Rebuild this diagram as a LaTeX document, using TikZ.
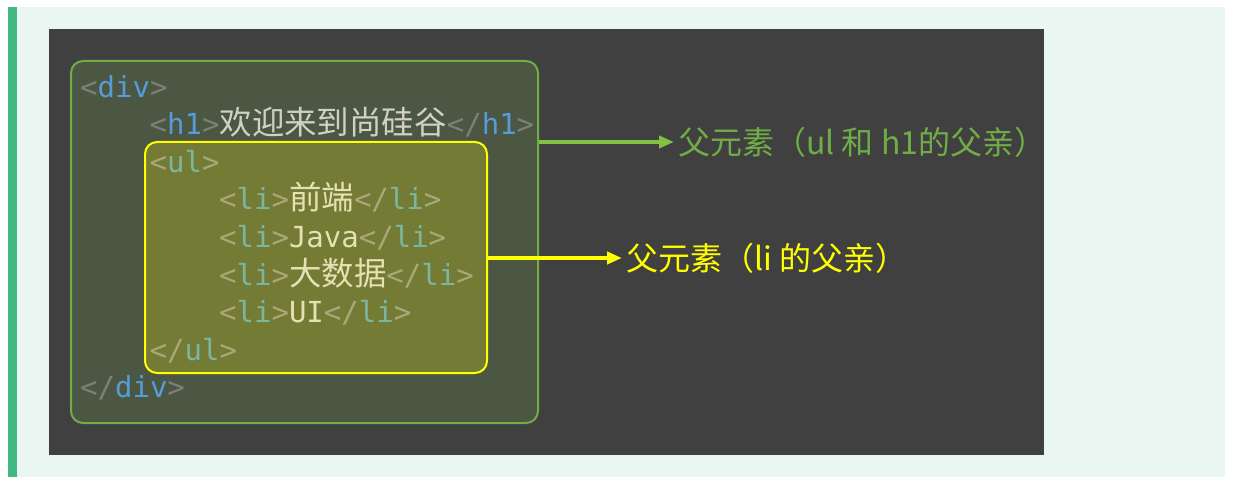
\documentclass[tikz,border=0pt]{standalone}
\usepackage{fontspec}
\setmonofont{DejaVu Sans Mono}
\newfontfamily\cjk{Noto Sans CJK SC}
\newfontfamily\cjkcode[Scale=1.12]{Noto Sans CJK SC}
\usetikzlibrary{arrows.meta}

\definecolor{page}{RGB}{233,246,241}
\definecolor{pagebar}{RGB}{66,185,131}
\definecolor{editor}{RGB}{64,64,64}
\definecolor{divline}{RGB}{112,173,71}
\definecolor{divfill}{RGB}{75,87,66}
\definecolor{ulline}{RGB}{255,255,0}
\definecolor{ulfill}{RGB}{115,123,53}
\definecolor{divpunct}{RGB}{125,128,120}
\definecolor{divtag}{RGB}{86,156,214}
\definecolor{divtext}{RGB}{208,208,200}
\definecolor{ulpunct}{RGB}{170,168,120}
\definecolor{ultag}{RGB}{125,182,160}
\definecolor{ultext}{RGB}{228,226,178}
\definecolor{greenarrow}{RGB}{130,192,70}

\newcommand{\dvp}[1]{\textcolor{divpunct}{#1}}
\newcommand{\dvtag}[1]{\textcolor{divtag}{#1}}
\newcommand{\ulp}[1]{\textcolor{ulpunct}{#1}}
\newcommand{\ultag}[1]{\textcolor{ultag}{#1}}
\newcommand{\ultxt}[1]{\textcolor{ultext}{#1}}

\begin{document}
\begin{tikzpicture}[x=1pt, y=-1pt, >={Triangle[length=15pt, width=12pt]},
    code/.style={anchor=base west, inner sep=0pt, font=\fontsize{29}{35}\ttfamily},
    box/.style={rounded corners=12pt, line width=2pt, inner sep=0pt},
    note/.style={anchor=west, inner sep=0pt, font=\fontsize{32}{38}\cjk}]
    \useasboundingbox (0,0) rectangle (1239,481);
    % page and editor background
    \fill[page] (8,7) rectangle (1225,477);
    \fill[pagebar] (8,7) rectangle (17,477);
    \fill[editor] (49,29) rectangle (1044,455);

    % highlight boxes
    \node[box, draw=divline, fill=divfill, minimum width=467pt, minimum height=362pt] (divbox) at (304.5,242) {};
    \node[box, draw=ulline, fill=ulfill, minimum width=342pt, minimum height=231pt] (ulbox) at (316,257.5) {};

    % code lines
    \node[code] (divopen) at (80,97.5) {\dvp{<}\dvtag{div}\dvp{>}};
    \node[code] (h1line) at (149.5,135) {\dvp{<}\dvtag{h1}\dvp{>}\textcolor{divtext}{\cjkcode 欢迎来到尚硅谷}\dvp{</}\dvtag{h1}\dvp{>}};
    \node[code] (ulopen) at (149.5,172.5) {\ulp{<}\ultag{ul}\ulp{>}};
    \node[code] (li1) at (219,210) {\ulp{<}\ultag{li}\ulp{>}\ultxt{\cjkcode 前端}\ulp{</}\ultag{li}\ulp{>}};
    \node[code] (li2) at (219,247.5) {\ulp{<}\ultag{li}\ulp{>}\ultxt{Java}\ulp{</}\ultag{li}\ulp{>}};
    \node[code] (li3) at (219,285) {\ulp{<}\ultag{li}\ulp{>}\ultxt{\cjkcode 大数据}\ulp{</}\ultag{li}\ulp{>}};
    \node[code] (li4) at (219,322.5) {\ulp{<}\ultag{li}\ulp{>}\ultxt{UI}\ulp{</}\ultag{li}\ulp{>}};
    \node[code] (ulclose) at (149.5,360) {\ulp{</}\ultag{ul}\ulp{>}};
    \node[code] (divclose) at (80,397.5) {\dvp{</}\dvtag{div}\dvp{>}};

    % notes
    \node[note, text=divline] (divnote) at (678,142) {父元素（ul 和 h1的父亲）};
    \node[note, text=ulline] (ulnote) at (626,258) {父元素（li 的父亲）};

    \draw[->, greenarrow, line width=4pt, shorten >=4pt] (divbox.east |- divnote.west) -- (divnote.west);
    \draw[->, ulline, line width=4pt, shorten >=4pt] (ulbox.east |- ulnote.west) -- (ulnote.west);
\end{tikzpicture}
\end{document}
